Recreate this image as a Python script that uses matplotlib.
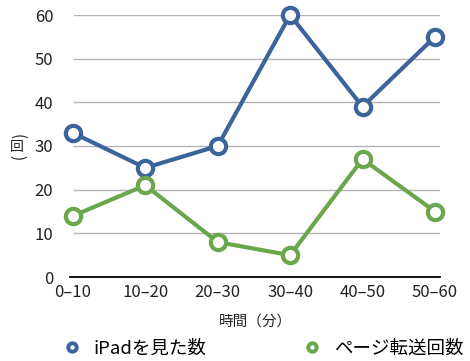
import matplotlib
matplotlib.use("Agg")
import matplotlib.pyplot as plt

plt.rcParams['font.family'] = ['Noto Sans CJK JP', 'DejaVu Sans']

# 時間帯ごとの回数
categories = ['0–10', '10–20', '20–30', '30–40', '40–50', '50–60']
ipad = [33, 25, 30, 60, 39, 55]
page = [14, 21, 8, 5, 27, 15]
yticks = [0, 10, 20, 30, 40, 50, 60]

blue = '#3b659a'
green = '#6aa74c'

fig = plt.figure(figsize=(4.7, 3.61), dpi=100)
ax = fig.add_axes([70 / 470, 84 / 361, 370 / 470, 262 / 361])

x = range(len(categories))
for vals, col, name in [(ipad, blue, 'iPadを見た数'), (page, green, 'ページ転送回数')]:
    ax.plot(x, vals, color=col, lw=3.0, marker='o', ms=11, mew=3.0,
            mfc='white', mec=col, label=name, clip_on=False, zorder=3)

ax.set_xlim(-0.04, 5.07)
ax.set_ylim(0, 60)
ax.set_yticks(yticks)
ax.set_xticks(list(x))
ax.set_xticklabels(categories)

for y in yticks[1:]:
    ax.axhline(y, xmin=0.01, xmax=1, color='#b4b4b4', lw=1.0, zorder=1)

for s in ['top', 'right', 'left']:
    ax.spines[s].set_visible(False)
ax.spines['bottom'].set_color('black')
ax.spines['bottom'].set_linewidth(1.3)

ax.tick_params(axis='both', length=0, labelsize=12, colors='#222222')
ax.tick_params(axis='y', pad=12)
ax.tick_params(axis='x', pad=5)

ax.set_xlabel('時間（分）', fontsize=10.5, color='#222222', labelpad=10)

# 縦書きの「（回）」
yl_x, yl_y = 17 / 470, 1 - 147 / 361
fig.text(yl_x, yl_y + 0.028, '(', fontsize=11, rotation=-90, ha='center', va='center',
         color='#222222')
fig.text(yl_x, yl_y, '回', fontsize=10, ha='center', va='center', color='#222222')
fig.text(yl_x, yl_y - 0.028, ')', fontsize=11, rotation=-90, ha='center', va='center',
         color='#222222')

leg = fig.legend(loc='center', bbox_to_anchor=(0.56, 0.034), ncol=2, frameon=False,
                 fontsize=13.3, columnspacing=5.2, handlelength=1.0, handletextpad=0.7,
                 markerscale=0.55)
for h in leg.legend_handles:
    h.set_linestyle('none')
    h.set_markeredgewidth(2.8)

fig.savefig('out.png', dpi=100)
